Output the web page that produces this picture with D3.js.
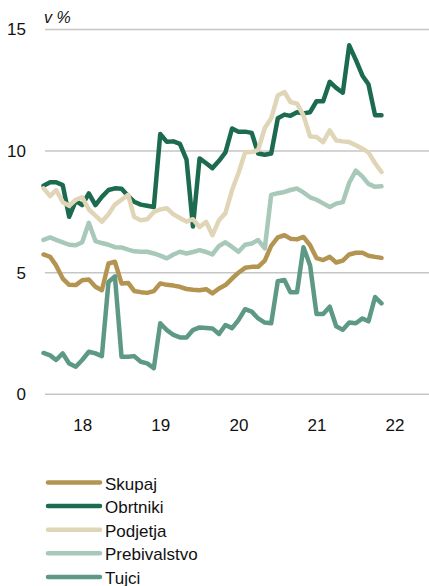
<!DOCTYPE html>
<html>
<head>
<meta charset="utf-8">
<script src="https://cdn.jsdelivr.net/npm/d3@7"></script>
<style>
  body { margin: 0; background: #fff; }
  svg { display: block; font-family: "Liberation Sans", Arial, sans-serif; }
</style>
</head>
<body>
<svg id="chart"></svg>
<script>
// monthly data, Jan 2018 - May 2022
const firstMonth = new Date(2018, 0, 1);
const lastMonth = new Date(2022, 4, 1);
const months = d3.timeMonth.range(firstMonth, d3.timeMonth.offset(lastMonth, 1));

const seriesNames = ["Skupaj", "Obrtniki", "Podjetja", "Prebivalstvo", "Tujci"];
const seriesColors = ["#b39451", "#1c6b4e", "#e0d5b7", "#a8c9ba", "#5e9985"];

const skupaj = [5.75, 5.65, 5.3, 4.76, 4.5, 4.49, 4.69, 4.72, 4.42, 4.28,
  5.38, 5.45, 4.56, 4.58, 4.25, 4.2, 4.17, 4.24, 4.56, 4.5,
  4.47, 4.42, 4.33, 4.3, 4.28, 4.32, 4.15, 4.35, 4.49, 4.76,
  5.0, 5.2, 5.24, 5.24, 5.5, 6.1, 6.45, 6.54, 6.4, 6.37,
  6.47, 6.13, 5.6, 5.52, 5.65, 5.42, 5.5, 5.75, 5.82, 5.82,
  5.7, 5.65, 5.61];

const obrtniki = [8.58, 8.72, 8.72, 8.6, 7.3, 7.95, 7.78, 8.26, 7.78, 8.12,
  8.4, 8.47, 8.45, 8.15, 7.92, 7.8, 7.75, 7.7, 10.7, 10.38,
  10.4, 10.3, 9.65, 6.9, 9.7, 9.5, 9.3, 9.6, 9.95, 10.93,
  10.8, 10.8, 10.75, 9.9, 9.85, 9.9, 11.35, 11.5, 11.45, 11.6,
  11.55, 11.6, 12.05, 12.05, 12.85, 12.6, 12.4, 14.35, 13.75, 13.1,
  12.75, 11.47, 11.47];

const podjetja = [8.47, 8.15, 8.4, 7.9, 7.75, 8.0, 8.1, 7.6, 7.35, 7.1,
  7.4, 7.8, 8.0, 8.2, 7.29, 7.16, 7.2, 7.5, 7.6, 7.65,
  7.4, 7.25, 7.1, 7.2, 6.88, 7.09, 6.54, 7.16, 7.45, 8.4,
  9.1, 9.95, 9.96, 10.05, 10.95, 11.35, 12.29, 12.43, 12.02, 11.95,
  11.47, 10.6, 10.58, 10.37, 10.85, 10.44, 10.4, 10.37, 10.24, 10.1,
  9.95, 9.5, 9.14];

const prebivalstvo = [6.35, 6.45, 6.35, 6.25, 6.15, 6.13, 6.25, 7.05, 6.3, 6.22,
  6.15, 6.05, 6.04, 5.95, 5.88, 5.86, 5.86, 5.79, 5.7, 5.59,
  5.75, 5.86, 5.79, 5.85, 5.93, 5.85, 5.75, 6.1, 6.25, 6.06,
  5.86, 6.15, 6.2, 6.34, 6.0, 8.2, 8.27, 8.32, 8.4, 8.46,
  8.3, 8.1, 8.0, 7.85, 7.7, 7.84, 7.9, 8.7, 9.2, 8.95,
  8.65, 8.53, 8.55];

const tujci = [1.7, 1.6, 1.41, 1.68, 1.27, 1.13, 1.41, 1.75, 1.68, 1.57,
  4.62, 4.85, 1.54, 1.54, 1.57, 1.34, 1.27, 1.07, 2.92, 2.64,
  2.44, 2.34, 2.34, 2.64, 2.75, 2.73, 2.71, 2.48, 2.85, 2.72,
  3.05, 3.5, 3.4, 3.12, 2.95, 2.92, 4.65, 4.7, 4.2, 4.2,
  6.05, 5.3, 3.3, 3.3, 3.6, 2.8, 2.65, 2.95, 2.92, 3.12,
  3.0, 4.0, 3.74];

const yTicks = [0, 5, 10, 15];
const yearLabels = [2018, 2019, 2020, 2021, 2022];
const unitLabel = "v %";

const allSeries = [skupaj, obrtniki, podjetja, prebivalstvo, tujci];

const width = 429, height = 586;
const svg = d3.select("#chart")
    .attr("width", width)
    .attr("height", height);

const x = d3.scaleTime()
    .domain([firstMonth, lastMonth])
    .range([43.5, 381.5]);

const y = d3.scaleLinear()
    .domain([0, 15])
    .range([394.3, 29.5]);

// gridlines
svg.append("g")
  .selectAll("line")
  .data(yTicks)
  .join("line")
    .attr("x1", 45)
    .attr("x2", width)
    .attr("y1", d => y(d))
    .attr("y2", d => y(d))
    .attr("stroke", "#c6c6c6")
    .attr("stroke-width", 1.5);

// Y axis labels
const yAxis = svg.append("g")
    .attr("transform", "translate(26,0)")
    .call(d3.axisLeft(y).tickValues(yTicks).tickSize(0).tickPadding(0));
yAxis.select(".domain").remove();
yAxis.selectAll("text")
    .attr("font-size", 17)
    .attr("font-family", "Liberation Sans, Arial, sans-serif")
    .attr("fill", "#111");

// X axis labels, centred on each year
const xAxis = svg.append("g")
    .attr("transform", "translate(0,431)")
    .call(d3.axisBottom(x)
        .tickValues(yearLabels.map(yr => new Date(yr, 6, 1)))
        .tickFormat(d3.timeFormat("%y"))
        .tickSize(0));
xAxis.select(".domain").remove();
xAxis.selectAll("text")
    .attr("y", 0)
    .attr("dy", 0)
    .attr("font-size", 17)
    .attr("font-family", "Liberation Sans, Arial, sans-serif")
    .attr("fill", "#111");

svg.append("text")
    .attr("x", 44)
    .attr("y", 23)
    .attr("font-size", 16)
    .attr("font-style", "italic")
    .attr("fill", "#111")
    .text(unitLabel);

const line = d3.line()
    .x((d, i) => x(months[i]))
    .y(d => y(d));

allSeries.forEach((values, k) => {
    svg.append("path")
        .datum(values)
        .attr("fill", "none")
        .attr("stroke", seriesColors[k])
        .attr("stroke-width", 4.5)
        .attr("stroke-linejoin", "round")
        .attr("stroke-linecap", "round")
        .attr("d", line);
});

// Legend
const legend = svg.append("g");
seriesNames.forEach((name, k) => {
    const ly = 482.5 + k * 23.6;
    legend.append("line")
        .attr("x1", 48)
        .attr("x2", 100)
        .attr("y1", ly)
        .attr("y2", ly)
        .attr("stroke", seriesColors[k])
        .attr("stroke-width", 4.5)
        .attr("stroke-linecap", "round");
    legend.append("text")
        .attr("x", 105)
        .attr("y", ly + 7)
        .attr("font-size", 17)
        .attr("fill", "#111")
        .text(name);
});
</script>
</body>
</html>
